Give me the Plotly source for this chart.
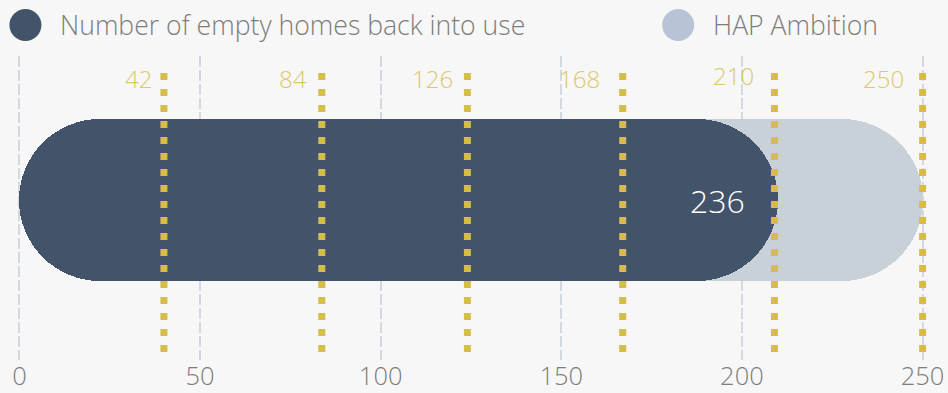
import plotly.graph_objects as go

# ---- data ----
series_names = ["Number of empty homes back into use", "HAP Ambition"]
ambition_value = 250
actual_bar_value = 210
actual_label = "236"
milestone_positions = [40, 83.7, 124, 167, 209, 250]
milestone_labels = ["42", "84", "126", "168", "210", "250"]
x_ticks = [0, 50, 100, 150, 200, 250]

# ---- style ----
BG = "#f7f7f7"
DARK = "#435369"
LIGHT = "#c8d0d8"
LIGHT_LEGEND = "#b8c4d5"
GOLD = "#d6bd4a"
GOLD_TEXT = "#dcc86c"
GRID = "#d2d9e1"
TEXT = "#7d7d7d"
FONT = "Open Sans"

W, H = 948, 393
PX_PER_UNIT = 3.614
X_RANGE = [-1.5, 251.5]
ML = 19 - 1.5 * PX_PER_UNIT
MR = W - ML - (X_RANGE[1] - X_RANGE[0]) * PX_PER_UNIT
MT, MB = 56, 33
PH = H - MT - MB
PW = W - ML - MR
BAR_THICK = 1.066
Y_RANGE = [-1.0526, 0.9474]
label_xshift = [-10, -13, -12, -21, -18, -17]
label_yshift = [0, 0, 0, 0, 3, 0]

fig = go.Figure()


def pill(value, color, name):
    fig.add_trace(go.Bar(
        y=[0], x=[value], base=[0], orientation="h",
        width=BAR_THICK, marker=dict(color=color, cornerradius="50%", line=dict(width=0)),
        name=name, showlegend=False, hoverinfo="skip"))


pill(ambition_value, LIGHT, series_names[1])
pill(actual_bar_value, DARK, series_names[0])

shapes = []
annotations = []

# milestone dotted lines
y_top_px, y_bot_px = 72, 352
for pos, lab, xs, ys in zip(milestone_positions, milestone_labels, label_xshift, label_yshift):
    shapes.append(dict(
        type="line", xref="x", yref="paper", x0=pos, x1=pos,
        y0=(H - MB - y_bot_px) / PH, y1=(H - MB - y_top_px) / PH,
        line=dict(color=GOLD, width=7, dash="7px,9px"), layer="above"))
    annotations.append(dict(
        x=pos, xref="x", y=(H - MB - 78.5) / PH, yref="paper",
        text=lab, showarrow=False, xanchor="right", yanchor="middle",
        xshift=xs, yshift=ys,
        font=dict(family=FONT, size=24, color=GOLD_TEXT, weight=300)))

# value label
annotations.append(dict(
    x=actual_bar_value, xref="x", y=0, yref="y", text=actual_label,
    showarrow=False, xanchor="right", yanchor="middle", xshift=-31,
    font=dict(family=FONT, size=32, color="#ffffff", weight=300)))

# legend (manual)
legend_items = [(series_names[0], DARK, 25, 58), (series_names[1], LIGHT_LEGEND, 678, 711)]
ly = (H - MB - 25) / PH
for name, col, cx, tx in legend_items:
    shapes.append(dict(
        type="circle", xref="paper", yref="paper",
        xsizemode="pixel", ysizemode="pixel",
        xanchor=(cx - ML) / PW, yanchor=ly,
        x0=-16, x1=16, y0=-16, y1=16,
        fillcolor=col, line=dict(width=0)))
    annotations.append(dict(
        x=(tx - ML) / PW, xref="paper", y=ly, yref="paper",
        text=name, showarrow=False, xanchor="left", yanchor="middle",
        font=dict(family=FONT, size=26.6, color=TEXT, weight=300)))

fig.update_layout(
    width=W, height=H,
    margin=dict(l=ML, r=MR, t=MT, b=MB, pad=0, autoexpand=False),
    paper_bgcolor=BG, plot_bgcolor=BG,
    barmode="overlay", bargap=0,
    showlegend=False,
    shapes=shapes, annotations=annotations,
    xaxis=dict(range=X_RANGE, tickvals=x_ticks, ticktext=[str(v) for v in x_ticks],
               showgrid=True, gridcolor=GRID, gridwidth=2, griddash="11px,3px",
               zeroline=False, showline=False, ticks="", automargin=False,
               ticklabelstandoff=-2,
               tickfont=dict(family=FONT, size=25.5, color=TEXT, weight=300),
               fixedrange=True),
    yaxis=dict(range=Y_RANGE, visible=False, showgrid=False, zeroline=False,
               fixedrange=True, automargin=False),
)

fig.write_html("out.html")
